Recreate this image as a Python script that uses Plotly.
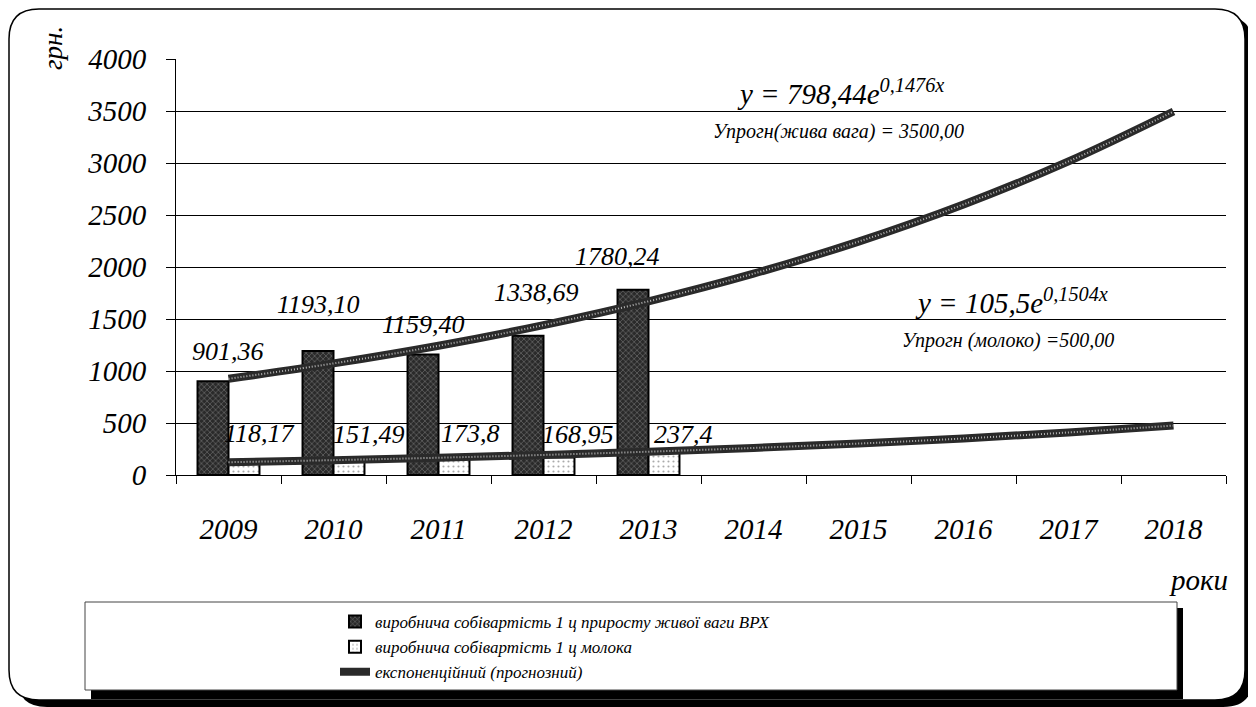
import plotly.graph_objects as go

# ---- data ----
years = ["2009", "2010", "2011", "2012", "2013", "2014", "2015", "2016", "2017", "2018"]
bar_years = ["2009", "2010", "2011", "2012", "2013"]
live_weight_cost = [901.36, 1193.10, 1159.40, 1338.69, 1780.24]
milk_cost = [118.17, 151.49, 173.8, 168.95, 237.4]
live_weight_labels = ["901,36", "1193,10", "1159,40", "1338,69", "1780,24"]
milk_labels = ["118,17", "151,49", "173,8", "168,95", "237,4"]
trend_live = [925, 1073, 1243, 1441, 1670, 1936, 2244, 2601, 3015, 3495]
trend_milk = [123, 143, 166, 193, 224, 260, 302, 351, 409, 475]
y_ticks = [0, 500, 1000, 1500, 2000, 2500, 3000, 3500, 4000]

name_live = "виробнича собівартість 1 ц приросту живої ваги ВРХ"
name_milk = "виробнича собівартість 1 ц молока"
name_trend = "експоненційний (прогнозний)"

# ---- layout geometry ----
OFF = 8                      # page body margin
W, H = 1248, 699
L, R, T, B = 176 - OFF, 1226 - OFF, 59 - OFF, 475 - OFF
FONT = "Liberation Serif"


def px(xr):
    return (xr - OFF - L) / (R - L)


def py(yr):
    return (B - (yr - OFF)) / (B - T)


def rounded_path(x0, y0, x1, y1, r):
    rx = r / (R - L)
    ry = r / (B - T)
    a, b, c, d = px(x0), py(y0), px(x1), py(y1)
    return (f"M{a+rx},{b} L{c-rx},{b} Q{c},{b} {c},{b-ry} "
            f"L{c},{d+ry} Q{c},{d} {c-rx},{d} L{a+rx},{d} Q{a},{d} {a},{d+ry} "
            f"L{a},{b-ry} Q{a},{b} {a+rx},{b} Z")


fig = go.Figure()

fig.add_trace(go.Bar(
    x=bar_years, y=live_weight_cost, name=name_live,
    marker=dict(color="#2a2a2a", line=dict(color="black", width=2),
                pattern=dict(shape="x", fgcolor="#cfcfcf", bgcolor="#2a2a2a",
                             size=4, solidity=0.25)),
))
fig.add_trace(go.Bar(
    x=bar_years, y=milk_cost, name=name_milk,
    marker=dict(color="white", line=dict(color="black", width=2),
                pattern=dict(shape=".", fgcolor="#555555", bgcolor="white",
                             size=5, solidity=0.15)),
))

for i, tr in enumerate([trend_live, trend_milk]):
    fig.add_trace(go.Scatter(
        x=years, y=tr, mode="lines", name=name_trend,
        line=dict(color="#2a2a2a", width=8, shape="spline"),
        legendgroup="trend", showlegend=(i == 0),
    ))
    fig.add_trace(go.Scatter(
        x=years, y=tr, mode="lines", name=name_trend,
        line=dict(color="#b5b5b5", width=2, dash="1px,2px", shape="spline"),
        legendgroup="trend", showlegend=False, hoverinfo="skip",
    ))

# data labels (x given as category index)
live_dx = [15, 0, 0, 8, -16]
live_dy = [30, 46, 30, 43, 33]
milk_dx = [15, 20, 16, 19, 19]
milk_dy = [29, 25, 23, 23, 16]
lab_font = dict(family=FONT, size=26, color="black", style="italic")
annotations = []
for i, yr in enumerate(bar_years):
    xi = years.index(yr)
    annotations.append(dict(
        x=xi, y=live_weight_cost[i], xref="x", yref="y", text=live_weight_labels[i],
        showarrow=False, xshift=-15.5 + live_dx[i], yshift=live_dy[i], font=lab_font))
    annotations.append(dict(
        x=xi, y=milk_cost[i], xref="x", yref="y", text=milk_labels[i],
        showarrow=False, xshift=15.5 + milk_dx[i], yshift=milk_dy[i], font=lab_font))

txt = dict(showarrow=False, xref="paper", yref="paper")
annotations += [
    dict(x=px(735), y=py(92), xanchor="left", yanchor="middle",
         text="y = 798,44e<sup>0,1476x</sup>",
         font=dict(family=FONT, size=29, color="black", style="italic"), **txt),
    dict(x=px(711), y=py(131), xanchor="left", yanchor="middle",
         text="Упрогн(жива вага) = 3500,00",
         font=dict(family=FONT, size=20, color="black", style="italic"), **txt),
    dict(x=px(913), y=py(301), xanchor="left", yanchor="middle",
         text="y = 105,5e<sup>0,1504x</sup>",
         font=dict(family=FONT, size=29, color="black", style="italic"), **txt),
    dict(x=px(900), y=py(340), xanchor="left", yanchor="middle",
         text="Упрогн (молоко) =500,00",
         font=dict(family=FONT, size=20, color="black", style="italic"), **txt),
    dict(x=px(53), y=py(48), xanchor="center", yanchor="middle", textangle=-90,
         text="грн.", font=dict(family=FONT, size=27, color="black", style="italic"), **txt),
    dict(x=px(1198), y=py(580), xanchor="center", yanchor="middle",
         text="роки", font=dict(family=FONT, size=29, color="black", style="italic"), **txt),
]

shapes = [
    dict(type="path", xref="paper", yref="paper", layer="below",
         path=rounded_path(17, 16, 1253, 707, 30), fillcolor="black", line=dict(width=0)),
    dict(type="path", xref="paper", yref="paper", layer="below",
         path=rounded_path(9, 9, 1245, 700, 30), fillcolor="white",
         line=dict(color="black", width=1.5)),
    dict(type="rect", xref="paper", yref="paper", layer="below",
         x0=px(91), x1=px(1183), y0=py(608), y1=py(699), fillcolor="black", line=dict(width=0)),
    dict(type="rect", xref="paper", yref="paper", layer="below",
         x0=px(85), x1=px(1177), y0=py(602), y1=py(690), fillcolor="white",
         line=dict(color="#444444", width=1)),
]

fig.update_layout(
    width=W, height=H,
    margin=dict(l=L, r=W - R, t=T, b=H - B, pad=0),
    paper_bgcolor="white", plot_bgcolor="rgba(0,0,0,0)",
    barmode="group", bargap=0.41, bargroupgap=0,
    showlegend=True,
    legend=dict(x=px(335), y=py(604), xanchor="left", yanchor="top",
                bgcolor="rgba(0,0,0,0)", borderwidth=0, tracegroupgap=0,
                font=dict(family=FONT, size=17, color="black", style="italic"),
                itemwidth=30),
    annotations=annotations, shapes=shapes,
    font=dict(family=FONT, color="black"),
)

fig.update_xaxes(
    type="category", categoryorder="array", categoryarray=years, range=[-0.5, 9.5],
    showline=True, linecolor="black", linewidth=1,
    ticks="outside", tickson="boundaries", ticklen=8, tickcolor="black",
    ticklabelstandoff=28, showgrid=False,
    tickfont=dict(family=FONT, size=29, color="black", style="italic"),
)
fig.update_yaxes(
    range=[0, 4000], tickvals=y_ticks, showline=True, linecolor="black", linewidth=1,
    ticks="outside", ticklen=9, tickcolor="black", ticklabelstandoff=14,
    showgrid=True, gridcolor="black", gridwidth=1, zeroline=False,
    tickfont=dict(family=FONT, size=29, color="black", style="italic"),
)

fig.write_html("out.html")
